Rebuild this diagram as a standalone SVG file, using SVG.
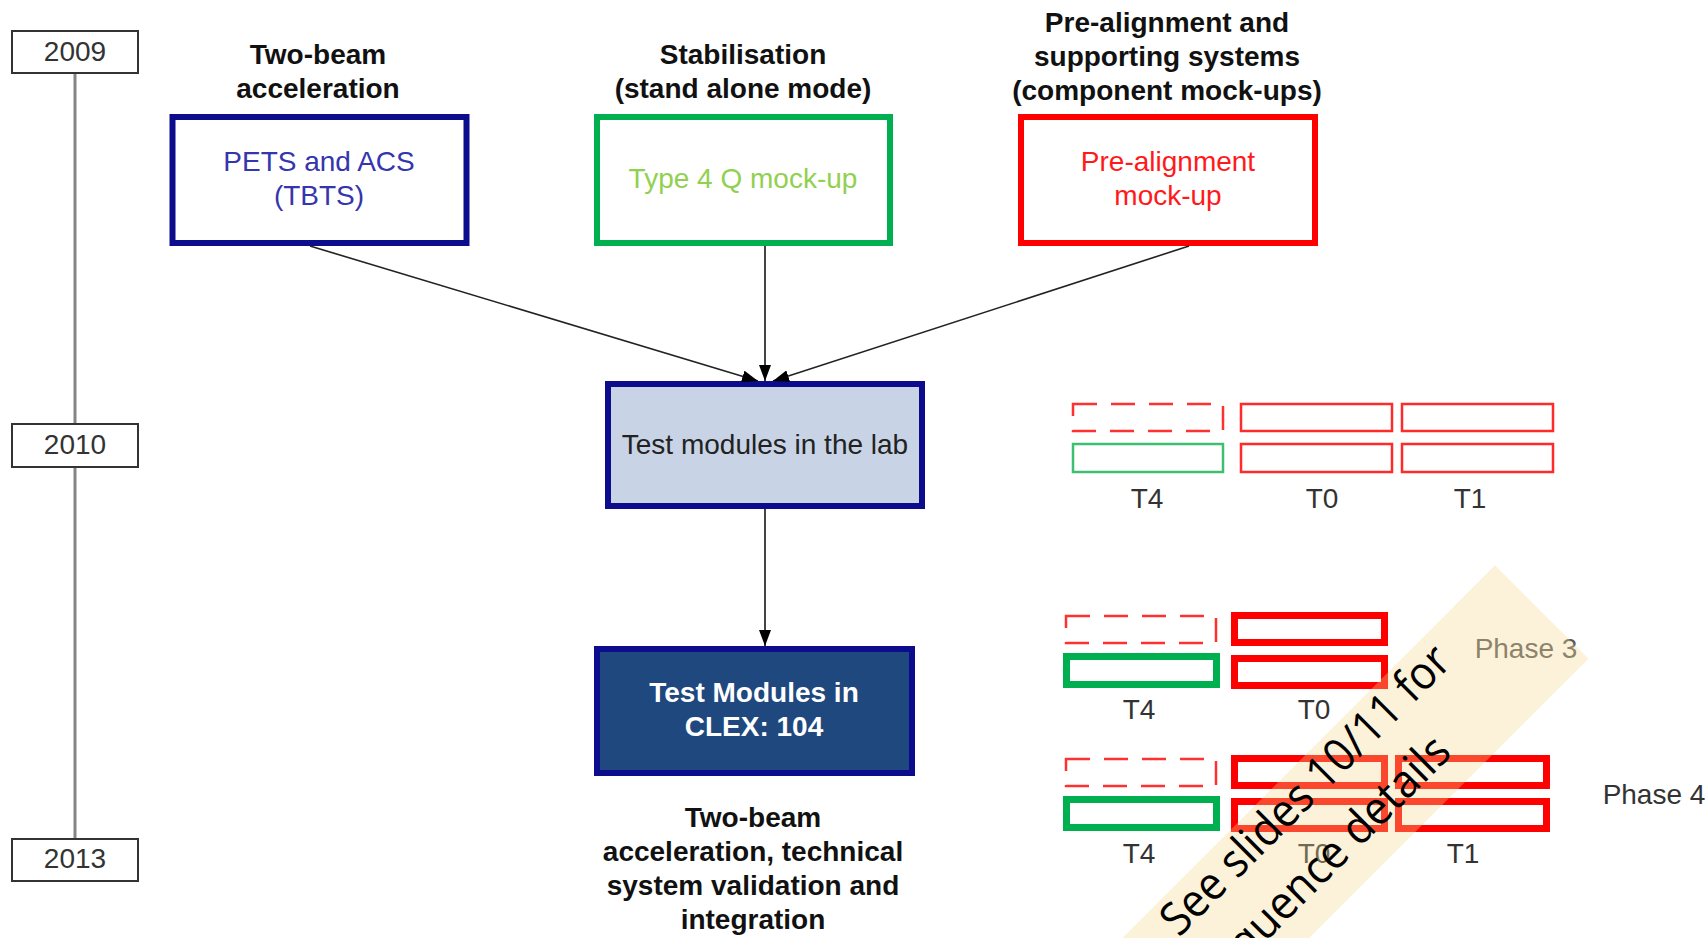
<svg xmlns="http://www.w3.org/2000/svg" width="1706" height="938" viewBox="0 0 1706 938">
<defs>
<style>
text{font-family:"Liberation Sans",Arial,sans-serif;font-size:28px;text-anchor:middle}
.hd{font-weight:bold;fill:#111}
.yr{fill:#fff;stroke:#333;stroke-width:2}
.tl{stroke:#858585;stroke-width:3}
.big{fill:#fff;stroke-width:6}
.lbl{fill:#333}
.thin{fill:none;stroke:#ff2a2a;stroke-width:2.5}
.thinG{fill:none;stroke:#3cc070;stroke-width:2.5}
.dash{fill:none;stroke:#ff3030;stroke-width:2.5;stroke-dasharray:24 14}
.thk{fill:none;stroke:#ff0000;stroke-width:7}
.thkG{fill:none;stroke:#00b050;stroke-width:7}
.con{stroke:#222;stroke-width:1.6;fill:none}
.conV{stroke:#444;stroke-width:2;fill:none}
.note{font-family:"Open Sans","Noto Sans",sans-serif;font-size:46px;fill:#000}
.ns{text-anchor:start}
.ne{text-anchor:end}
</style>
<marker id="ah" viewBox="0 0 16 12" refX="16" refY="6" markerWidth="16" markerHeight="12" markerUnits="userSpaceOnUse" orient="auto">
<path d="M0,0 L16,6 L0,12 z" fill="#000"/>
</marker>
</defs>
<rect width="1706" height="938" fill="#fff"/>

<g id="timeline">
<line class="tl" x1="75" y1="73" x2="75" y2="424"/>
<line class="tl" x1="75" y1="467" x2="75" y2="839"/>
</g>
<g id="y2009"><rect class="yr" x="12" y="31" width="126" height="42"/><text x="75" y="61" class="lbl">2009</text></g>
<g id="y2010"><rect class="yr" x="12" y="424" width="126" height="43"/><text x="75" y="454" class="lbl">2010</text></g>
<g id="y2013"><rect class="yr" x="12" y="839" width="126" height="42"/><text x="75" y="868" class="lbl">2013</text></g>

<g id="h1"><text class="hd" x="318" y="64">Two-beam</text><text class="hd" x="318" y="98">acceleration</text></g>
<g id="h2"><text class="hd" x="743" y="64">Stabilisation</text><text class="hd" x="743" y="98">(stand alone mode)</text></g>
<g id="h3"><text class="hd" x="1167" y="32">Pre-alignment and</text><text class="hd" x="1167" y="66">supporting systems</text><text class="hd" x="1167" y="100">(component mock-ups)</text></g>

<g id="pets"><rect class="big" x="172.5" y="117" width="294" height="126" stroke="#0c0c8c"/>
<text x="319" y="171" fill="#3535ad">PETS and ACS</text><text x="319" y="205" fill="#3535ad">(TBTS)</text></g>
<g id="type4"><rect class="big" x="597" y="117" width="293" height="126" stroke="#00b050"/>
<text x="743" y="188" fill="#92d050">Type 4 Q mock-up</text></g>
<g id="prealign"><rect class="big" x="1021" y="117" width="294" height="126" stroke="#ff0000"/>
<text x="1168" y="171" fill="#ff1a1a">Pre-alignment</text><text x="1168" y="205" fill="#ff1a1a">mock-up</text></g>

<g id="lab"><rect x="608" y="384" width="314" height="122" fill="#c8d4e5" stroke="#0c0c8c" stroke-width="6"/>
<text x="765" y="454" fill="#222">Test modules in the lab</text></g>
<g id="clex"><rect x="597" y="649" width="315" height="124" fill="#1f487e" stroke="#0c0c8c" stroke-width="6"/>
<text x="754" y="702" fill="#fff" font-weight="bold">Test Modules in</text><text x="754" y="736" fill="#fff" font-weight="bold">CLEX: 104</text></g>
<g id="caption">
<text class="hd" x="753" y="827">Two-beam</text>
<text class="hd" x="753" y="861">acceleration, technical</text>
<text class="hd" x="753" y="895">system validation and</text>
<text class="hd" x="753" y="929">integration</text>
</g>

<g id="connectors">
<line class="con" x1="310" y1="246" x2="758" y2="381" marker-end="url(#ah)"/>
<line class="conV" x1="765" y1="246" x2="765" y2="381" marker-end="url(#ah)"/>
<line class="con" x1="1189" y1="246" x2="773" y2="381" marker-end="url(#ah)"/>
<line class="conV" x1="765" y1="509" x2="765" y2="646" marker-end="url(#ah)"/>
</g>

<g id="phase2010">
<rect class="dash" x="1073" y="404" width="150" height="27"/>
<rect class="thin" x="1241" y="404" width="151" height="27"/>
<rect class="thin" x="1402" y="404" width="151" height="27"/>
<rect class="thinG" x="1073" y="444" width="150" height="28"/>
<rect class="thin" x="1241" y="444" width="151" height="28"/>
<rect class="thin" x="1402" y="444" width="151" height="28"/>
<text class="lbl" x="1147" y="508">T4</text>
<text class="lbl" x="1322" y="508">T0</text>
<text class="lbl" x="1470" y="508">T1</text>
</g>

<g id="phase3">
<rect class="dash" x="1066" y="616" width="150" height="27"/>
<rect class="thk" x="1234.5" y="615.5" width="150" height="27"/>
<rect class="thkG" x="1066.5" y="656.5" width="150" height="28"/>
<rect class="thk" x="1234.5" y="658.5" width="150" height="27"/>
<text class="lbl" x="1139" y="719">T4</text>
<text class="lbl" x="1314" y="719">T0</text>
<text x="1526" y="658" fill="#5a5a5a">Phase 3</text>
</g>

<g id="phase4">
<rect class="dash" x="1066" y="759" width="150" height="27"/>
<rect class="thk" x="1234.5" y="758.5" width="150" height="27"/>
<rect class="thk" x="1398.5" y="758.5" width="148" height="27"/>
<rect class="thkG" x="1066.5" y="799.5" width="150" height="28"/>
<rect class="thk" x="1234.5" y="801.5" width="150" height="27"/>
<rect class="thk" x="1398.5" y="801.5" width="148" height="27"/>
<text class="lbl" x="1139" y="863">T4</text>
<text class="lbl" x="1314" y="863">T0</text>
<text class="lbl" x="1463" y="863">T1</text>
<text x="1654" y="804" fill="#333">Phase 4</text>
</g>

<g id="note" transform="translate(1179,938) rotate(-45)">
<rect x="-395" y="-40" width="882" height="132" fill="#f7d98f" fill-opacity="0.33"/>
<text class="note ns" x="0" y="0" textLength="388" lengthAdjust="spacingAndGlyphs">See slides 10/11 for</text>
<text class="note ne" x="324" y="64" textLength="338" lengthAdjust="spacingAndGlyphs">sequence details</text>
</g>
</svg>
